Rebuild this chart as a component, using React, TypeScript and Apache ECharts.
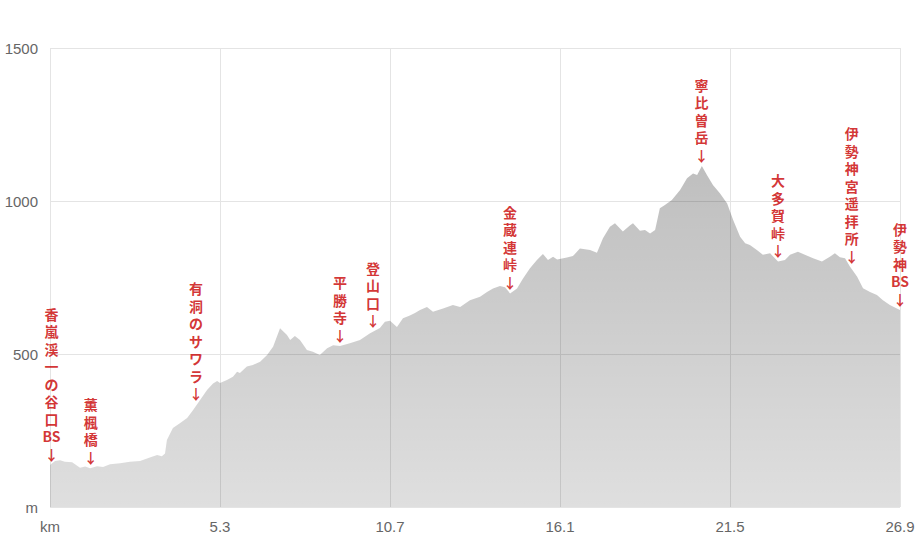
import React, { useEffect, useRef } from "react";
import * as echarts from "echarts";

const distanceKm: number[] = [
  0, 0.16, 0.32, 0.47, 0.7, 0.95, 1.11, 1.27, 1.49, 1.68, 1.9, 2.22, 2.53, 2.85, 3.16, 3.39, 3.54, 3.64, 3.7, 3.89,
  4.11, 4.34, 4.53, 4.75, 4.97, 5.16, 5.29, 5.38, 5.6, 5.79, 5.92, 6.01, 6.23, 6.42, 6.65, 6.87, 7.06, 7.28, 7.5, 7.6,
  7.75, 7.91, 8.13, 8.32, 8.54, 8.77, 8.96, 9.18, 9.49, 9.81, 10.13, 10.44, 10.6, 10.76, 10.98, 11.17, 11.39, 11.55,
  11.71, 11.93, 12.12, 12.44, 12.75, 12.98, 13.29, 13.61, 13.83, 14.02, 14.24, 14.4, 14.56, 14.78, 14.97, 15.19, 15.41,
  15.6, 15.76, 15.92, 16.05, 16.36, 16.55, 16.77, 17.09, 17.31, 17.5, 17.72, 17.88, 18.13, 18.36, 18.45, 18.67, 18.83,
  18.99, 19.15, 19.3, 19.46, 19.68, 19.94, 20.16, 20.35, 20.48, 20.63, 20.79, 20.98, 21.2, 21.43, 21.62, 21.84, 22.0,
  22.15, 22.37, 22.56, 22.79, 23.04, 23.26, 23.42, 23.67, 23.89, 24.15, 24.43, 24.68, 24.84, 25.0, 25.16, 25.32, 25.54,
  25.73, 25.95, 26.17, 26.36, 26.58, 26.8, 26.9,
];

const elevationM: number[] = [
  137, 150, 153, 148, 146, 128, 132, 127, 133, 131, 140, 143, 148, 150, 162, 170, 166, 175, 219, 258,
  274, 291, 317, 350, 382, 404, 412, 405, 415, 426, 442, 438, 459, 464, 475, 497, 524, 584, 562, 546,
  559, 546, 513, 507, 497, 519, 529, 526, 535, 546, 568, 585, 605, 609, 588, 617, 626, 634,
  644, 654, 638, 649, 660, 654, 676, 687, 703, 714, 722, 718, 698, 714, 747, 780, 807,
  827, 807, 818, 809, 815, 820, 845, 840, 831, 878, 916, 927, 900, 921, 927, 903, 905,
  894, 905, 976, 987, 1003, 1036, 1074, 1090, 1085, 1114, 1085, 1052, 1025, 992, 938, 883, 862,
  856, 840, 824, 829, 802, 807, 824, 834, 824, 813, 802, 818, 829, 816, 813, 785, 753,
  715, 703, 693, 676, 660, 649, 644,
];

const placeNames: string[] = [
  "香嵐渓一の谷口BS",
  "薫楓橋",
  "有洞のサワラ",
  "平勝寺",
  "登山口",
  "金蔵連峠",
  "寧比曽岳",
  "大多賀峠",
  "伊勢神宮遥拝所",
  "伊勢神BS",
];
const placeKm: number[] = [0.05, 1.29, 4.62, 9.18, 10.22, 14.56, 20.62, 23.04, 25.37, 26.9];
const placeElev: number[] = [137, 128, 335, 526, 573, 700, 1114, 802, 785, 644];

const xTickLabelZero = "km";
const yTickLabelZero = "m";

export default function App() {
  const ref = useRef<HTMLDivElement>(null);
  useEffect(() => {
    if (!ref.current) return;
    const chart = echarts.init(ref.current, undefined, { renderer: "svg" });
    const profile = distanceKm.map((d, i) => [d, elevationM[i]]);
    const places = placeNames.map((n, i) => [placeKm[i], placeElev[i], n]);
    const xMax = 26.9;
    chart.setOption({
      animation: false,
      textStyle: { fontFamily: "Liberation Sans, Arial, sans-serif" },
      grid: { left: 50, right: 20, top: 48, bottom: 32, containLabel: false },
      xAxis: {
        type: "value",
        min: 0,
        max: xMax,
        interval: xMax / 5,
        axisLine: { show: false },
        axisTick: { show: false },
        splitLine: { show: true, lineStyle: { color: "#e4e4e4", width: 1 } },
        axisLabel: {
          color: "#666",
          fontSize: 15,
          margin: 12,
          showMaxLabel: true,
          showMinLabel: true,
          formatter: (v: number) =>
            v === 0 ? xTickLabelZero : (Math.floor(v * 10 + 1e-6) / 10).toFixed(1),
        },
      },
      yAxis: {
        type: "value",
        min: 0,
        max: 1500,
        interval: 500,
        axisLine: { show: false },
        axisTick: { show: false },
        splitLine: { show: true, lineStyle: { color: "#e4e4e4", width: 1 } },
        axisLabel: {
          color: "#666",
          fontSize: 15,
          margin: 12,
          formatter: (v: number) => (v === 0 ? yTickLabelZero : String(v)),
        },
      },
      series: [
        {
          type: "line",
          data: profile,
          showSymbol: false,
          symbol: "none",
          lineStyle: { width: 0, color: "rgba(0,0,0,0)" },
          areaStyle: {
            color: new echarts.graphic.LinearGradient(0, 0, 0, 1, [
              { offset: 0, color: "rgba(0,0,0,0.36)" },
              { offset: 1, color: "rgba(0,0,0,0.18)" },
            ]),
          },
          z: 2,
        },
        {
          type: "scatter",
          data: places,
          symbolSize: 1,
          itemStyle: { color: "rgba(0,0,0,0)" },
          z: 5,
          label: {
            show: true,
            position: "top",
            distance: 2,
            color: "#c80000",
            fontSize: 14,
            fontWeight: "bold",
            lineHeight: 17.5,
            align: "center",
            fontFamily: "Noto Sans CJK JP, sans-serif",
            formatter: (p: any) => {
              const name: string = p.data[2];
              const parts = name.match(/[A-Za-z]+|./g) || [];
              return parts.join("\n") + "\n↓";
            },
          },
        },
      ],
    });
    return () => chart.dispose();
  }, []);
  return <div ref={ref} style={{ width: 920, height: 539, position: "absolute", left: 0, top: 0 }} />;
}
